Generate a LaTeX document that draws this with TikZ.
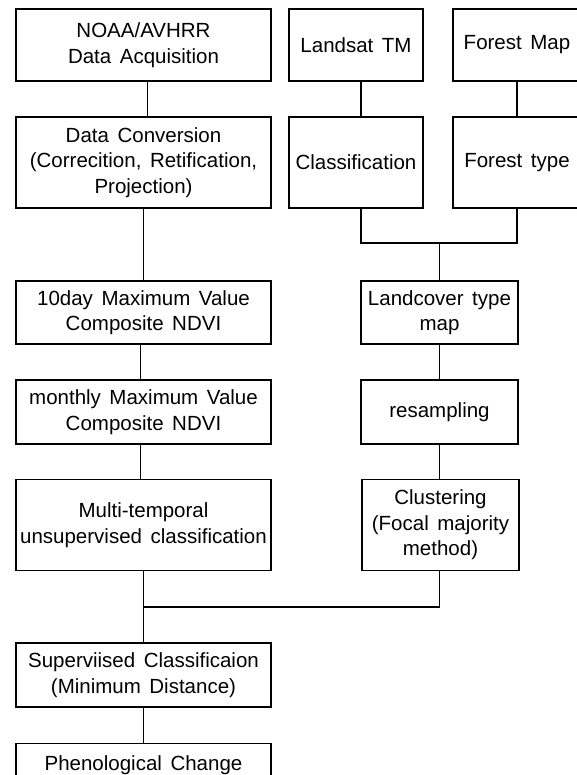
\documentclass[tikz,border=0pt]{standalone}
\usepackage{fontspec}
\setmainfont{Liberation Sans}[WordSpace=1.5]
\begin{document}
\begin{tikzpicture}[x=1pt,y=-1pt,
  box/.style={draw, line width=1.2pt, inner sep=0pt, align=center,
    font=\fontsize{20.5}{25.5}\selectfont},
  wl/.style={box, minimum width=255pt},
  wm/.style={box, minimum width=134pt},
  wr/.style={box, minimum width=128pt},
  wc/.style={box, minimum width=157pt},
  conn/.style={line width=1.2pt}]
\useasboundingbox (0,0) rectangle (577,775);
\clip (0,0) rectangle (577,775);
% left column
\node[wl, minimum height=72pt] (noaa) at (143.5,45) {NOAA/AVHRR\\Data Acquisition};
\node[wl, minimum height=91pt] (dc) at (143.5,162.5) {Data Conversion\\(Correcition, Retification,\\Projection)};
\node[wl, minimum height=63pt] (ten) at (143.5,312.5) {10day Maximum Value\\Composite NDVI};
\node[wl, minimum height=64pt] (mon) at (143.5,412) {monthly Maximum Value\\Composite NDVI};
\node[wl, minimum height=91pt] (mt) at (143.5,525) {Multi-temporal\\unsupervised classification};
\node[wl, minimum height=64pt] (sv) at (143.5,675) {Superviised Classificaion\\(Minimum Distance)};
\node[wl, anchor=north, inner ysep=12pt, minimum height=0pt] (ph) at (143.5,743) {Phenological Change};
% middle column
\node[wm, minimum height=72pt] (lt) at (356,45) {Landsat TM};
\node[wm, minimum height=91pt] (cls) at (356,162.5) {Classification};
\node[wc, minimum height=63pt] (lc) at (439.5,312.5) {Landcover type\\map};
\node[wc, minimum height=64pt] (rs) at (439.5,412) {resampling};
\node[wc, minimum height=91pt] (clu) at (440.5,525) {Clustering\\(Focal majority\\method)};
% right column
\node[wr, minimum height=72pt] (fm) at (517,45) {Forest Map};
\node[wr, minimum height=91pt] (ft) at (517,162.5) {Forest type};
% junctions
\coordinate (j1) at (439.5,243);
\coordinate (j2) at (143.5,607);
% connectors
\draw[conn] ([xshift=4pt]noaa.south) -- ([xshift=4pt]dc.north);
\draw[conn] (dc.south) -- (ten.north);
\draw[conn] ([xshift=-3pt]ten.south) -- ([xshift=-3pt]mon.north);
\draw[conn] ([xshift=-3pt]mon.south) -- ([xshift=-3pt]mt.north);
\draw[conn] (mt.south) -- (sv.north);
\draw[conn] (sv.south) -- (ph.north);
\draw[conn] ([xshift=5pt]lt.south) -- ([xshift=5pt]cls.north);
\draw[conn] (fm.south) -- (ft.north);
\draw[conn] ([xshift=5pt]cls.south) |- (j1) -| (ft.south);
\draw[conn] (j1) -- (lc.north);
\draw[conn] (lc.south) -- (rs.north);
\draw[conn] (rs.south) -- (rs.south |- clu.north);
\draw[conn] ([xshift=-1pt]clu.south) |- (j2);
\end{tikzpicture}
\end{document}
